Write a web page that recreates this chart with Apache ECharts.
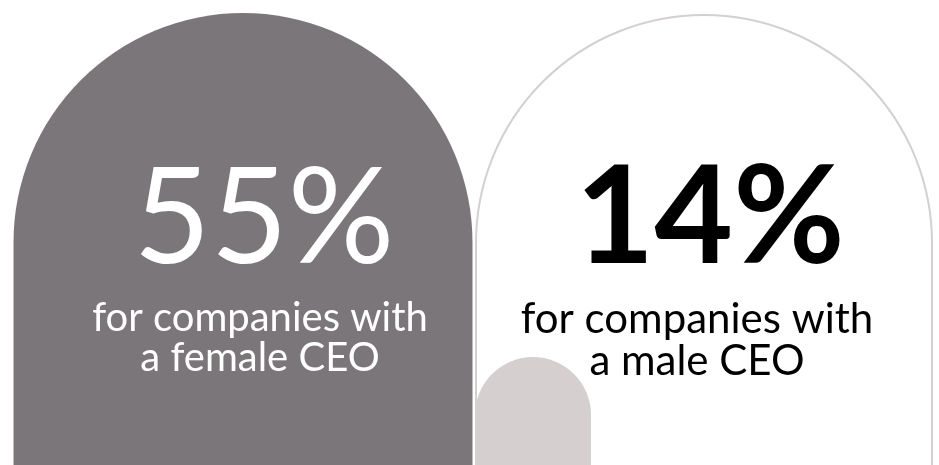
<!DOCTYPE html>
<html>
<head>
<meta charset="utf-8">
<script src="https://cdn.jsdelivr.net/npm/echarts@6/dist/echarts.min.js"></script>
<style>
  html, body { margin: 0; padding: 0; background: #ffffff; }
  #chart { width: 939px; height: 465px; }
</style>
</head>
<body>
<div id="chart"></div>
<script>
// Share of companies (percent) by CEO gender
const categories = ['female CEO', 'male CEO'];
const shareValues = [55, 14];
const captionLines = [
  ['for companies with', 'a female CEO'],
  ['for companies with', 'a male CEO']
];

// Visual style for each arch panel
const panelStyle = [
  { fill: '#7b7679', stroke: null, text: '#ffffff', bigWeight: 400, bigSize: 133, insetL: 0.5, insetR: 0.5, top: 13,
    bigDx: 21, bigY: 220, capDx: 17, capY: 318, capSize: 40, capGap: 40, capWeight: 400 },
  { fill: '#ffffff', stroke: '#d4d0cf', text: '#000000', bigWeight: 700, bigSize: 136, insetL: 3, insetR: 1, top: 15,
    bigDx: 6, bigY: 219, capDx: -7, capY: 319, capSize: 42, capGap: 42, capWeight: 400 }
];
const FONT = 'Lato, "Noto Sans", sans-serif';

const chart = echarts.init(document.getElementById('chart'), null, { renderer: 'canvas' });

function renderPanel(params, api) {
  const i = params.dataIndex;
  const st = panelStyle[i];
  const center = api.coord([api.value(0), 0]);
  const band = api.size([1, 0])[0];
  const bottom = params.coordSys.y + params.coordSys.height + 10;
  const x0 = center[0] - band / 2 + st.insetL;
  const x1 = center[0] + band / 2 - st.insetR;
  const w = x1 - x0;
  const r = w / 2;
  const mid = (x0 + x1) / 2;
  const children = [
    {
      type: 'rect',
      shape: { x: x0, y: st.top, width: w, height: bottom - st.top, r: [r, r, 0, 0] },
      style: st.stroke
        ? { fill: st.fill, stroke: st.stroke, lineWidth: 2 }
        : { fill: st.fill }
    }
  ];
  if (i === 1) {
    // small decorative tab at the lower left of the second panel
    const tw = 116;
    children.push({
      type: 'rect',
      shape: { x: x0 - 1, y: 357, width: tw, height: bottom - 357, r: [tw / 2, tw / 2, 0, 0] },
      style: { fill: '#d5d0cf' }
    });
  }
  children.push({
    type: 'text',
    style: {
      text: api.value(1) + '%',
      x: mid + st.bigDx,
      y: st.bigY,
      align: 'center',
      verticalAlign: 'middle',
      fill: st.text,
      font: st.bigWeight + ' ' + st.bigSize + 'px ' + FONT
    }
  });
  captionLines[i].forEach(function (line, k) {
    children.push({
      type: 'text',
      style: {
        text: line,
        x: mid + st.capDx,
        y: st.capY + k * st.capGap,
        align: 'center',
        verticalAlign: 'middle',
        fill: st.text,
        font: st.capWeight + ' ' + st.capSize + 'px ' + FONT
      }
    });
  });
  return { type: 'group', children: children };
}

chart.setOption({
  animation: false,
  backgroundColor: '#ffffff',
  grid: { left: 13, right: 6, top: 0, bottom: 0 },
  xAxis: {
    type: 'category',
    data: categories,
    show: false,
    boundaryGap: true
  },
  yAxis: { type: 'value', min: 0, max: 100, show: false },
  series: [{
    type: 'custom',
    renderItem: renderPanel,
    clip: false,
    data: shareValues.map(function (v, i) { return [i, v]; })
  }]
});
</script>
</body>
</html>
